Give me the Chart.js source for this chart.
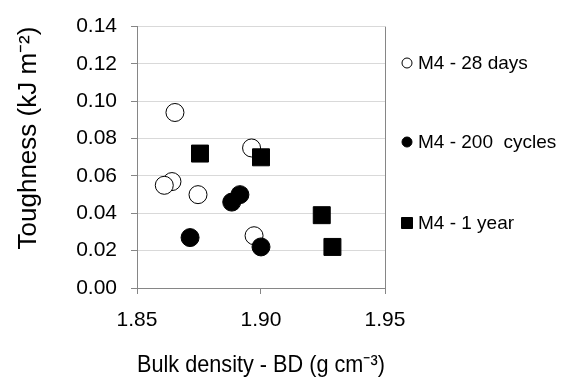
<!DOCTYPE html>
<html>
<head>
<meta charset="utf-8">
<script src="https://cdn.jsdelivr.net/npm/chart.js@4"></script>
<style>
  html, body { margin: 0; padding: 0; background: #fff; }
  #wrap { width: 561px; height: 380px; }
</style>
</head>
<body>
<div id="wrap"><canvas id="myChart" width="561" height="380"></canvas></div>
<script>
// M4 - 28 days
const bd28 = [1.8653, 1.8962, 1.8641, 1.8610, 1.8746, 1.8972];
const tough28 = [0.094, 0.075, 0.057, 0.055, 0.050, 0.028];
// M4 - 200 cycles
const bd200 = [1.8714, 1.8882, 1.8915, 1.9000];
const tough200 = [0.027, 0.046, 0.050, 0.022];
// M4 - 1 year
const bd1y = [1.8754, 1.9000, 1.9245, 1.9288];
const tough1y = [0.072, 0.070, 0.039, 0.022];

const seriesLabels = ['M4 - 28 days', 'M4 - 200  cycles', 'M4 - 1 year'];
const xTicks = [1.85, 1.90, 1.95];
const yTicks = [0.00, 0.02, 0.04, 0.06, 0.08, 0.10, 0.12, 0.14];

const toPoints = (xs, ys) => xs.map((x, i) => ({ x: x, y: ys[i] }));

const FONT = "'Liberation Sans', Arial, sans-serif";
const axisColor = '#868686';
const gridColor = '#d9d9d9';

// legend drawn by hand so the items can sit far apart like in Excel
const sideLegend = {
  id: 'sideLegend',
  afterDraw(chart) {
    const ctx = chart.ctx;
    const rows = [63, 142, 223];
    ctx.save();
    ctx.font = '19px ' + FONT;
    ctx.textBaseline = 'middle';
    chart.data.datasets.forEach((ds, i) => {
      const y = rows[i];
      const cx = 407;
      ctx.lineWidth = 1;
      ctx.strokeStyle = '#000';
      ctx.fillStyle = ds.pointBackgroundColor;
      ctx.beginPath();
      if (ds.pointStyle === 'rect') {
        ctx.rect(cx - 5.5, y - 5.5, 11, 11);
      } else {
        ctx.arc(cx, y, 5, 0, Math.PI * 2);
      }
      ctx.fill();
      ctx.stroke();
      ctx.fillStyle = '#000';
      ctx.fillText(ds.label, 418, y + 1);
    });
    ctx.restore();
  }
};

const ctx = document.getElementById('myChart').getContext('2d');
const myChart = new Chart(ctx, {
  type: 'scatter',
  data: {
    datasets: [
      {
        label: seriesLabels[0],
        data: toPoints(bd28, tough28),
        pointStyle: 'circle',
        pointRadius: 9,
        pointBackgroundColor: '#ffffff',
        pointBorderColor: '#000000',
        pointBorderWidth: 1,
        order: 3,
      },
      {
        label: seriesLabels[1],
        data: toPoints(bd200, tough200),
        pointStyle: 'circle',
        pointRadius: 9,
        pointBackgroundColor: '#000000',
        pointBorderColor: '#000000',
        pointBorderWidth: 1,
        order: 2,
      },
      {
        label: seriesLabels[2],
        data: toPoints(bd1y, tough1y),
        pointStyle: 'rect',
        pointRadius: 12,
        pointBackgroundColor: '#000000',
        pointBorderColor: '#000000',
        pointBorderWidth: 1,
        order: 1,
      },
    ],
  },
  options: {
    responsive: false,
    animation: false,
    layout: { padding: { left: 9, top: 20, right: 176, bottom: 0 } },
    plugins: {
      legend: { display: false },
      tooltip: { enabled: false },
    },
    scales: {
      x: {
        type: 'linear',
        min: xTicks[0],
        max: xTicks[xTicks.length - 1],
        afterBuildTicks: (scale) => { scale.ticks = xTicks.map(v => ({ value: v })); },
        afterFit: (scale) => { scale.height = 92; },
        ticks: {
          font: { family: FONT, size: 21 },
          color: '#000',
          padding: 14,
          callback: (v) => Number(v).toFixed(2),
        },
        grid: {
          drawOnChartArea: true,
          color: (c) => (c.tick && Math.abs(c.tick.value - 1.95) < 1e-9) ? axisColor : 'rgba(0,0,0,0)',
          tickColor: axisColor,
          tickLength: 6,
        },
        border: { color: axisColor, width: 1 },
        title: {
          display: true,
          text: 'Bulk density - BD (g cm⁻³)',
          font: { family: FONT, size: 24 },
          color: '#000',
          padding: { top: 0, bottom: 0 },
        },
      },
      y: {
        min: yTicks[0],
        max: yTicks[yTicks.length - 1],
        afterBuildTicks: (scale) => { scale.ticks = yTicks.map(v => ({ value: v })); },
        afterFit: (scale) => { scale.width = 128; },
        ticks: {
          font: { family: FONT, size: 21 },
          color: '#000',
          padding: 14,
          callback: (v) => Number(v).toFixed(2),
        },
        grid: {
          color: gridColor,
          tickColor: axisColor,
          tickLength: 6,
        },
        border: { color: axisColor, width: 1 },
        title: {
          display: true,
          text: 'Toughness (kJ m⁻²)',
          align: 'end',
          font: { family: FONT, size: 26 },
          color: '#000',
          padding: { top: 4, bottom: 4 },
        },
      },
    },
  },
  plugins: [sideLegend],
});
</script>
</body>
</html>
